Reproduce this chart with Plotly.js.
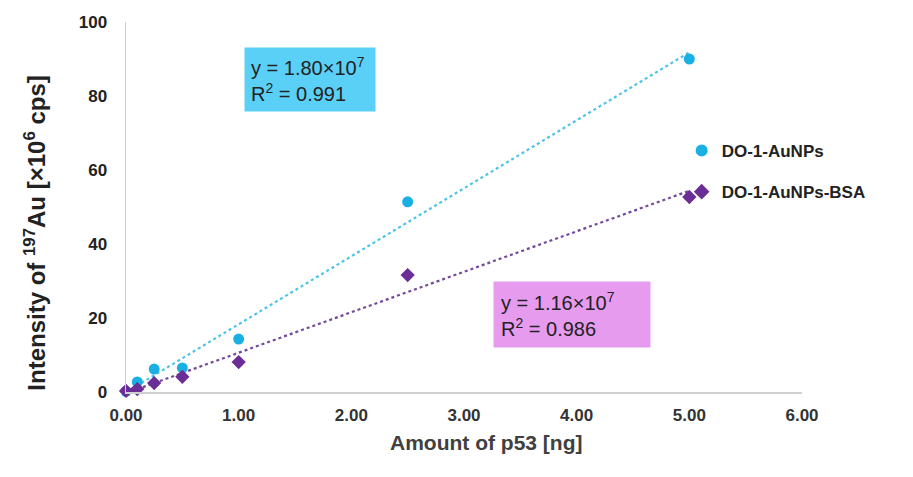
<!DOCTYPE html>
<html>
<head>
<meta charset="utf-8">
<script src="https://cdn.plot.ly/plotly-3.0.1.min.js"></script>
<style>html,body{margin:0;padding:0;background:#fff;}#chart{width:913px;height:477px;}</style>
</head>
<body>
<div id="chart"></div>
<script>
// Data (x in ng, y in ×10^6 cps)
const amountP53 = [0, 0.1, 0.25, 0.5, 1.0, 2.5, 5.0];
const auNPs     = [0.2, 2.7, 6.2, 6.5, 14.3, 51.4, 90.0];
const auNPsBSA  = [0.3, 0.8, 2.4, 4.1, 8.1, 31.6, 52.7];
const seriesNames = ['DO-1-AuNPs', 'DO-1-AuNPs-BSA'];
const xTicks = [0, 1, 2, 3, 4, 5, 6];
const xTickLabels = ['0.00', '1.00', '2.00', '3.00', '4.00', '5.00', '6.00'];
const yTicks = [0, 20, 40, 60, 80, 100];
const eqBlue = 'y = 1.80×10<sup>7</sup><br>R<sup>2</sup> = 0.991';
const eqPurple = 'y = 1.16×10<sup>7</sup><br>R<sup>2</sup> = 0.986';

function linFit(xs, ys) {
  const n = xs.length;
  const mx = xs.reduce((a, b) => a + b, 0) / n;
  const my = ys.reduce((a, b) => a + b, 0) / n;
  let sxy = 0, sxx = 0;
  for (let i = 0; i < n; i++) { sxy += (xs[i] - mx) * (ys[i] - my); sxx += (xs[i] - mx) ** 2; }
  const m = sxy / sxx, b = my - m * mx;
  const x0 = Math.min(...xs), x1 = Math.max(...xs);
  return { x: [x0, x1], y: [m * x0 + b, m * x1 + b] };
}
const fitBlue = linFit(amountP53, auNPs);
const fitPurple = linFit(amountP53, auNPsBSA);

const blue = '#1bb0e4';
const purple = '#6b2d96';
const FONT = 'Liberation Sans, Arial, sans-serif';

const traces = [
  { x: fitBlue.x, y: fitBlue.y, mode: 'lines', showlegend: false, hoverinfo: 'skip',
    line: { color: '#4cc4e8', width: 2.2, dash: 'dot' } },
  { x: fitPurple.x, y: fitPurple.y, mode: 'lines', showlegend: false, hoverinfo: 'skip',
    line: { color: '#74489a', width: 2.2, dash: 'dot' } },
  { x: amountP53, y: auNPs, name: seriesNames[0], legendgroup: 'a', mode: 'markers', cliponaxis: false,
    marker: { symbol: 'circle', size: 11, color: blue } },
  { x: amountP53, y: auNPsBSA, name: seriesNames[1], legendgroup: 'b', mode: 'markers', cliponaxis: false,
    marker: { symbol: 'diamond', size: 11, color: purple } }
];

const layout = {
  width: 913, height: 477,
  margin: { l: 126, r: 111, t: 22, b: 85 },
  paper_bgcolor: '#fff', plot_bgcolor: '#fff',
  font: { family: FONT, color: '#222' },
  xaxis: {
    range: [0, 6], tickvals: xTicks, ticktext: xTickLabels,
    showgrid: false, zeroline: false, showline: true, linecolor: '#d0d0d0', linewidth: 1.5,
    ticks: '', ticklabelstandoff: 7,
    tickfont: { family: FONT, size: 17, color: '#333', weight: 'bold' },
    fixedrange: true
  },
  yaxis: {
    range: [0, 100], tickvals: yTicks,
    showgrid: false, zeroline: false, showline: true, linecolor: '#d0d0d0', linewidth: 1.5,
    ticks: '', ticklabelstandoff: 14,
    tickfont: { family: FONT, size: 17, color: '#222', weight: 'bold' },
    fixedrange: true
  },
  showlegend: true,
  legend: { x: 0.822, y: 0.70, xanchor: 'left', yanchor: 'top', xref: 'paper', yref: 'paper',
    bgcolor: 'rgba(0,0,0,0)', tracegroupgap: 16, itemsizing: 'constant', itemwidth: 30,
    font: { family: FONT, size: 17, color: '#222', weight: 'bold' } },
  annotations: [
    { xref: 'paper', yref: 'paper', x: -0.135, y: 0.43, xanchor: 'center', yanchor: 'middle',
      textangle: -90, text: 'Intensity of <sup>197</sup>Au [×10<sup>6</sup> cps]', showarrow: false,
      font: { family: FONT, size: 24, color: '#222', weight: 'bold' } },
    { xref: 'paper', yref: 'paper', x: 0.533, y: -0.1, xanchor: 'center', yanchor: 'top',
      text: 'Amount of p53 [ng]', showarrow: false,
      font: { family: FONT, size: 21, color: '#404040', weight: 'bold' } },
    { xref: 'x', yref: 'y', x: 1.05, y: 84.5, xanchor: 'left', yanchor: 'middle', align: 'left',
      text: eqBlue, showarrow: false, bgcolor: '#5bd0f7', borderpad: 6, width: 118,
      font: { family: FONT, size: 20, color: '#222' } },
    { xref: 'x', yref: 'y', x: 3.26, y: 21, xanchor: 'left', yanchor: 'middle', align: 'left',
      text: eqPurple, showarrow: false, bgcolor: '#e79bef', borderpad: 7, width: 142,
      font: { family: FONT, size: 20, color: '#222' } }
  ]
};

Plotly.newPlot('chart', traces, layout, { displayModeBar: false, staticPlot: true });
</script>
</body>
</html>
